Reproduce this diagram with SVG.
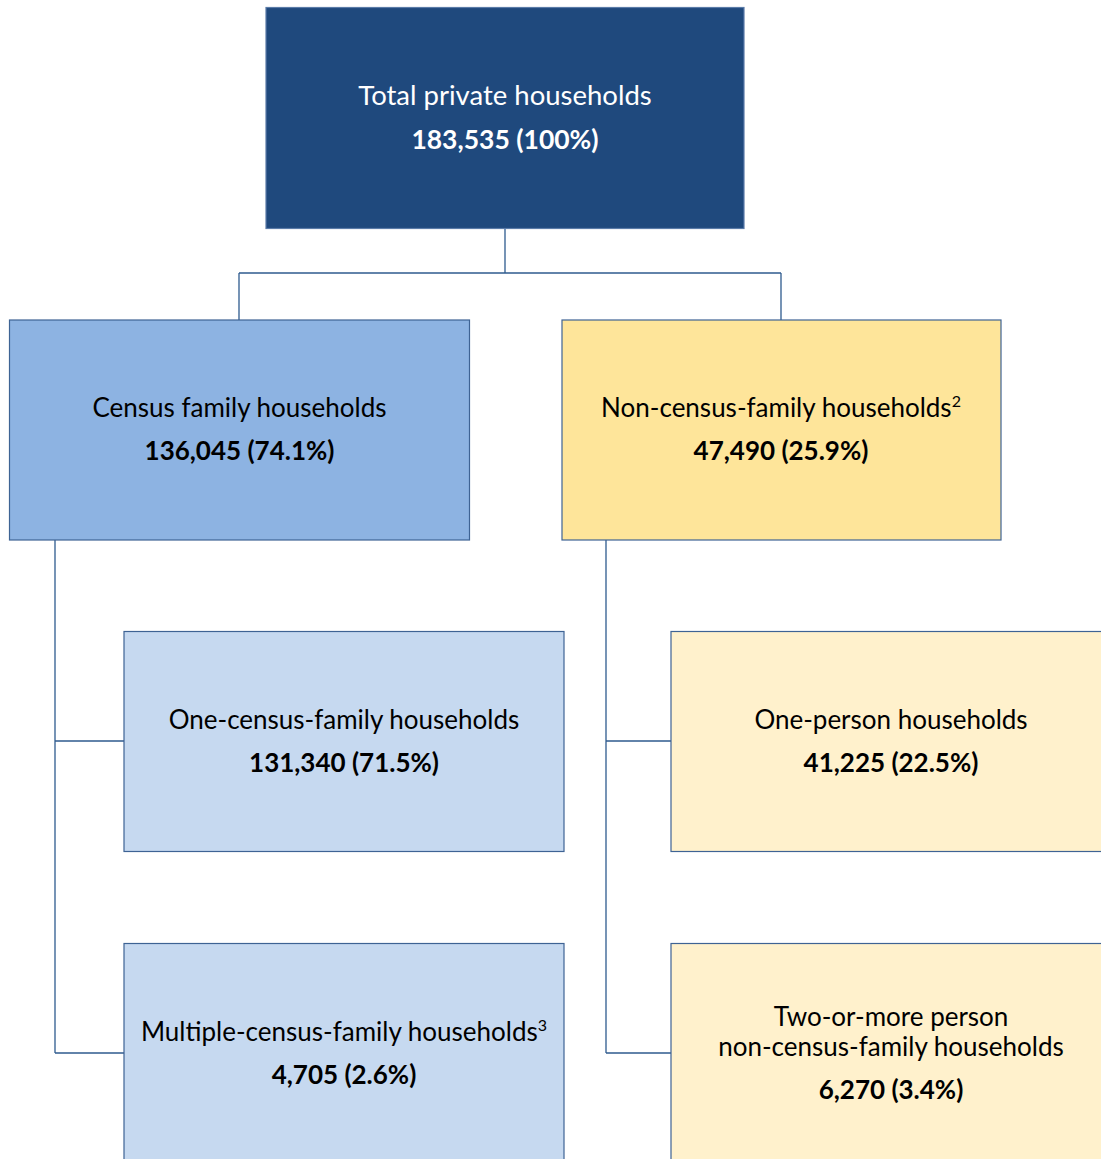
<svg xmlns="http://www.w3.org/2000/svg" width="1101" height="1159" viewBox="0 0 1101 1159">
<style>
.box{stroke:#3E6394;stroke-width:1.2}
.top{fill:#1F497D;stroke:#5A7BA8}
.blue1{fill:#8DB3E2}
.blue2{fill:#C6D9F0}
.gold1{fill:#FEE59A}
.gold2{fill:#FFF1CC}
text{font-family:Lato,"Liberation Sans",sans-serif;font-size:26px;text-anchor:middle;fill:#000}
.b{font-weight:bold}
.w{fill:#fff}
.big{font-size:27.5px}
.bigb{font-size:26.5px}
.sup{font-size:16px}
.conn{fill:none;stroke:#2F5B8F;stroke-width:1.3}
</style>
<rect width="1101" height="1159" fill="#fff"/>
<g id="connectors">
<path class="conn" d="M505,228 V273 M239,273 H781 M239,273 V320 M781,273 V320"/>
<path class="conn" d="M55,540 V1053 M55,741 H124 M55,1053 H124"/>
<path class="conn" d="M606,540 V1053 M606,741 H671 M606,1053 H671"/>
</g>
<g id="total">
<rect class="box top" x="266" y="7.5" width="478" height="221"/>
<text class="w big" x="505" y="105">Total private households</text>
<text class="w b bigb" x="505" y="149">183,535 (100%)</text>
</g>
<g id="census">
<rect class="box blue1" x="9.5" y="320" width="460" height="220"/>
<text x="239.5" y="417">Census family households</text>
<text class="b" x="239.5" y="460">136,045 (74.1%)</text>
</g>
<g id="noncensus">
<rect class="box gold1" x="562" y="320" width="439" height="220"/>
<text x="781" y="417">Non-census-family households<tspan class="sup" dy="-10">2</tspan></text>
<text class="b" x="781" y="460">47,490 (25.9%)</text>
</g>
<g id="onecensus">
<rect class="box blue2" x="124" y="631.5" width="440" height="220"/>
<text x="344" y="729">One-census-family households</text>
<text class="b" x="344" y="772">131,340 (71.5%)</text>
</g>
<g id="multiple">
<rect class="box blue2" x="124" y="943.5" width="440" height="230"/>
<text x="344" y="1041">Multiple-census-family households<tspan class="sup" dy="-10">3</tspan></text>
<text class="b" x="344" y="1084">4,705 (2.6%)</text>
</g>
<g id="oneperson">
<rect class="box gold2" x="671" y="631.5" width="440" height="220"/>
<text x="891" y="729">One-person households</text>
<text class="b" x="891" y="772">41,225 (22.5%)</text>
</g>
<g id="twoormore">
<rect class="box gold2" x="671" y="943.5" width="440" height="230"/>
<text x="891" y="1026">Two-or-more person</text>
<text x="891" y="1056">non-census-family households</text>
<text class="b" x="891" y="1099">6,270 (3.4%)</text>
</g>
</svg>
